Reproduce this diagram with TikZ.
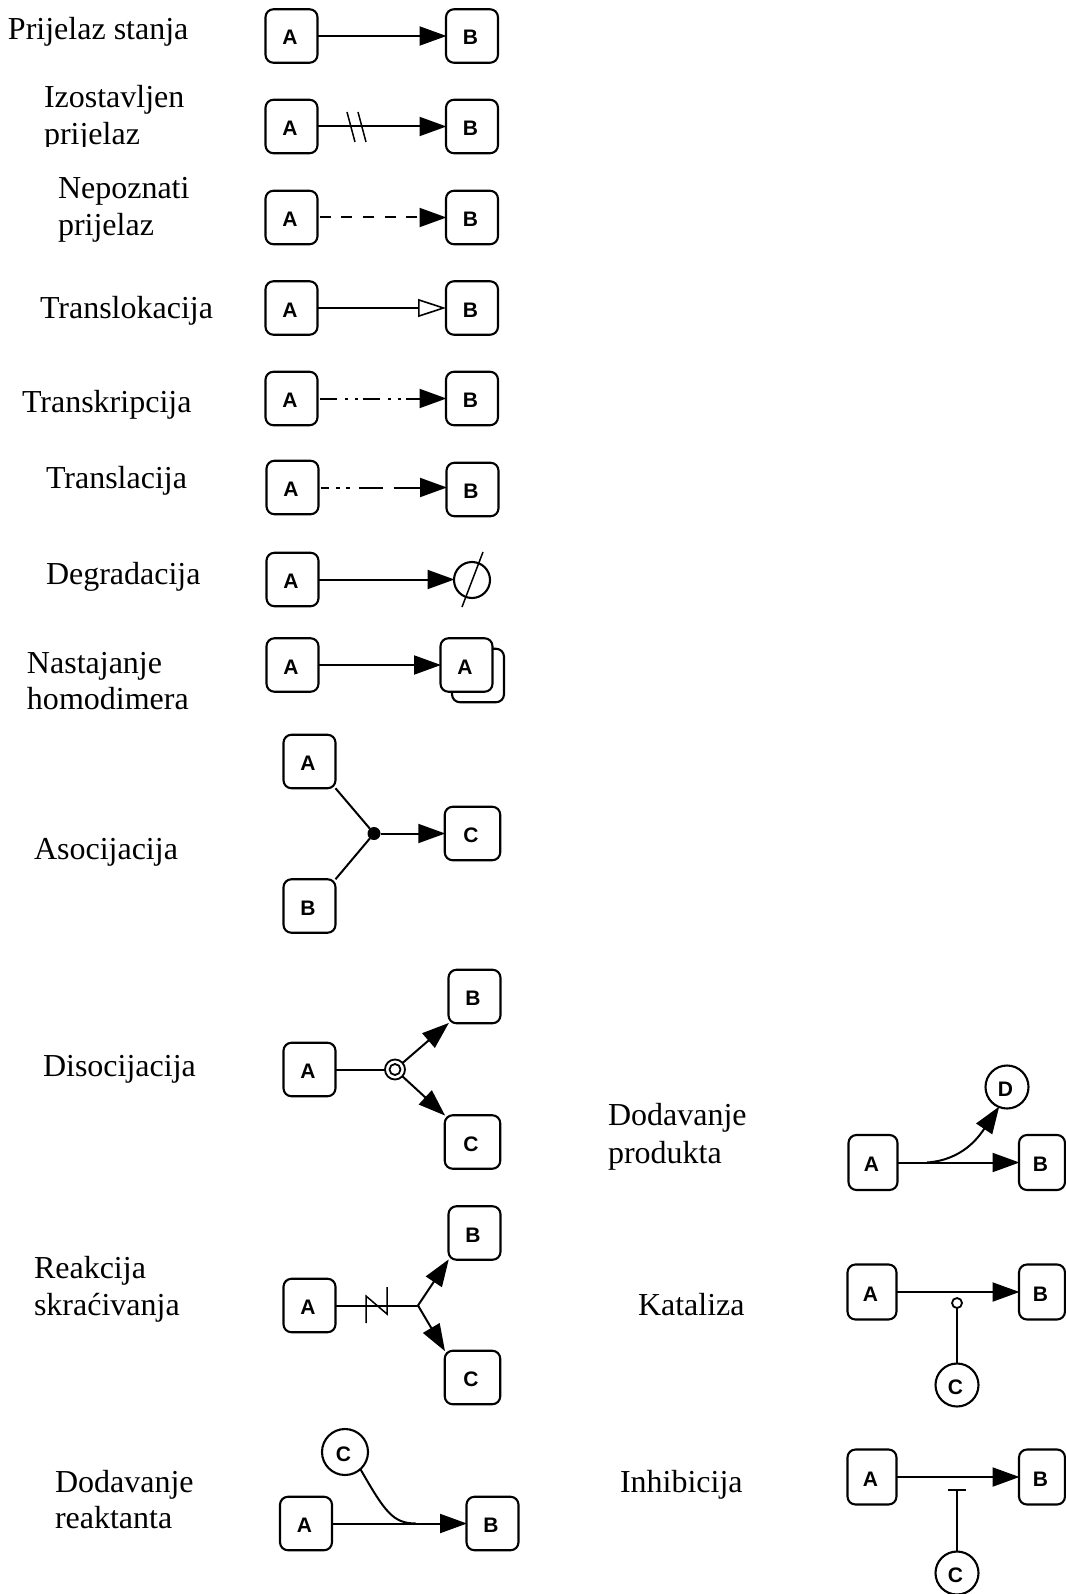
\documentclass[tikz,border=0pt]{standalone}
\usepackage{fontspec}
\setmainfont{Liberation Serif}
\newfontfamily\boxfont{Liberation Sans}
\usetikzlibrary{arrows.meta}
\tikzset{
  x=1pt,y=-1pt,
  conn/.style={line width=2pt,draw=black},
  reac/.style={conn,-{Triangle[length=27pt,width=19pt,fill=black]},shorten >=-0.5pt},
  opentip/.style={conn,-{Triangle[length=28pt,width=18pt,fill=white,line width=1.6pt]}},
  thin tick/.style={line width=1.5pt,draw=black},
  letter/.style={font=\boxfont\bfseries\fontsize{21}{21}\selectfont,text height=18pt,text depth=0pt,execute at end node=\hspace{3pt}},
  ent/.style={draw=black,line width=2.1pt,rounded corners=8pt,fill=white,minimum width=52pt,minimum height=53.5pt,inner sep=0pt,outer sep=0pt,letter},
  wide/.style={ent,minimum width=55.5pt},
  cut/.style={ent,minimum width=46pt},
  rnd/.style={draw=black,line width=2.1pt,circle,fill=white,inner sep=0pt,outer sep=0pt,minimum size=43pt,letter},
  lab/.style={anchor=base west,inner sep=0pt,outer sep=0pt,font=\fontsize{32}{34}\selectfont},
}
\begin{document}
\begin{tikzpicture}
\useasboundingbox (0,0) rectangle (1065,1594);
% labels
\node[lab] (l1) at (8,40) {Prijelaz stanja};
\node[lab] (l2a) at (44,108) {Izostavljen};
\node[lab] (l2b) at (44,145) {prijelaz};
\fill[white] (40,147.5) rectangle (150,158);
\node[lab] (l3a) at (58,199) {Nepoznati};
\node[lab] (l3b) at (58,236) {prijelaz};
\node[lab] (l4) at (40,319) {Translokacija};
\node[lab] (l5) at (22,412) {Transkripcija};
\node[lab] (l6) at (46,488) {Translacija};
\node[lab] (l7) at (46,584) {Degradacija};
\node[lab] (l8a) at (27,673) {Nastajanje};
\node[lab] (l8b) at (27,709) {homodimera};
\node[lab] (l9) at (34,859) {Asocijacija};
\node[lab] (l10) at (43,1076) {Disocijacija};
\node[lab] (l11a) at (34,1278) {Reakcija};
\node[lab] (l11b) at (34,1315) {skraćivanja};
\node[lab] (l12a) at (55,1492) {Dodavanje};
\node[lab] (l12b) at (55,1528) {reaktanta};
\node[lab] (l13a) at (608,1125) {Dodavanje};
\node[lab] (l13b) at (608,1163) {produkta};
\node[lab] (l14) at (638,1315) {Kataliza};
\node[lab] (l15) at (620,1492) {Inhibicija};
% row 1
\node[ent] (a1) at (291.5,36) {A};
\node[ent] (b1) at (472,36) {B};
\draw[reac] (a1.east) -- (a1.east -| b1.west);
% row 2
\node[ent] (a2) at (291.5,126.5) {A};
\node[ent] (b2) at (472,126.5) {B};
\draw[reac] (a2.east) -- (a2.east -| b2.west);
\draw[thin tick] (347,112) -- (355,142);
\draw[thin tick] (358,112) -- (366,142);
% row 3
\node[ent] (a3) at (291.5,217.5) {A};
\node[ent] (b3) at (472,217.5) {B};
\draw[reac,dash pattern=on 11pt off 10.7pt] ([xshift=2pt]a3.east) -- (a3.east -| b3.west);
% row 4
\node[ent] (a4) at (291.5,308) {A};
\node[ent] (b4) at (472,308) {B};
\draw[opentip] (a4.east) -- (a4.east -| b4.west);
% row 5
\node[ent] (a5) at (291.5,398.5) {A};
\node[ent] (b5) at (472,398.5) {B};
\draw[reac,dash pattern=on 17pt off 8pt on 3pt off 7pt on 3pt off 5pt] ([xshift=2pt]a5.east) -- (a5.east -| b5.west);
% row 6
\node[ent] (a6) at (292.5,487.5) {A};
\node[ent] (b6) at (472.5,489.5) {B};
\draw[reac,dash pattern=on 8pt off 7pt on 4pt off 6pt on 4pt off 9pt on 24pt off 11pt on 30pt off 4pt] ([xshift=2pt]a6.east) -- (a6.east -| b6.west);
% row 7
\node[ent] (a7) at (292.5,579.5) {A};
\node[draw=black,line width=2.1pt,circle,minimum size=36pt,inner sep=0pt,outer sep=0pt] (d7) at (472,580) {};
\draw[reac] (a7.east) -- (a7.east -| d7.west);
\draw[thin tick] (483,552) -- (462,607);
% row 8
\node[ent] (a8) at (292.5,665) {A};
\node[ent] (s8) at (478,675.5) {};
\node[ent] (f8) at (466.5,665) {A};
\draw[reac] (a8.east) -- (a8.east -| f8.west);
% association
\node[ent] (a9) at (309.5,761.5) {A};
\node[ent] (b9) at (309.5,906) {B};
\node[wide] (c9) at (472.5,833.5) {C};
\node[circle,fill=black,inner sep=0pt,minimum size=13pt,outer sep=0pt] (j9) at (374,833.5) {};
\draw[conn] (a9.south east) -- (j9);
\draw[conn] (b9.north east) -- (j9);
\draw[reac] (j9) -- (c9);
% dissociation
\node[ent] (a10) at (309.5,1069.5) {A};
\node[ent] (b10) at (474.5,996.5) {B};
\node[wide] (c10) at (472.5,1142) {C};
\node[circle,draw=black,line width=1.8pt,fill=white,minimum size=20pt,inner sep=0pt,outer sep=0pt] (j10) at (395,1069.5) {};
\node[circle,draw=black,line width=1.8pt,fill=white,minimum size=11pt,inner sep=0pt,outer sep=0pt] (k10) at (395,1069.5) {};
\draw[conn] (a10.east) -- (j10);
\draw[reac] (j10) -- (b10.south west);
\draw[reac] (j10) -- (c10.north west);
% truncation
\node[ent] (a11) at (309.5,1305.5) {A};
\node[ent] (b11) at (474.5,1233) {B};
\node[wide] (c11) at (472.5,1377.5) {C};
\coordinate (j11) at (418,1305.5);
\draw[conn] (a11.east) -- (j11);
\draw[reac] (j11) -- (b11.south west);
\draw[reac] (j11) -- (c11.north west);
\draw[thin tick] (366,1323) -- (366,1296) -- (387,1314) -- (387,1287);
% add reactant
\node[rnd,minimum size=46pt] (c12) at (345,1452) {C};
\node[ent] (a12) at (306,1523.5) {A};
\node[ent] (b12) at (492.5,1523.5) {B};
\coordinate (m12) at (416,1523.5);
\draw[reac] (a12.east) -- (b12.west);
\draw[conn] (c12.-48) .. controls (385,1512) and (393,1523.5) .. (m12);
% add product
\node[ent,minimum width=49pt,minimum height=55pt] (a13) at (873,1162.5) {A};
\node[cut,minimum height=55pt] (b13) at (1042,1162.5) {B};
\node[rnd] (d13) at (1007,1087) {D};
\coordinate (m13) at (927,1162.5);
\draw[reac] (a13.east) -- (b13.west);
\draw[reac] (m13) .. controls (962,1160) and (978,1138) .. (d13.-112);
% catalysis
\node[ent,minimum width=49pt,minimum height=55pt] (a14) at (872,1292) {A};
\node[cut,minimum height=55pt] (b14) at (1042,1292) {B};
\node[rnd] (c14) at (957,1385) {C};
\node[circle,draw=black,line width=1.8pt,minimum size=10pt,inner sep=0pt,outer sep=0pt] (o14) at (957,1303) {};
\draw[reac] (a14.east) -- (b14.west);
\draw[conn] (c14) -- (o14);
% inhibition
\node[ent,minimum width=49pt,minimum height=55pt] (a15) at (872,1477) {A};
\node[cut,minimum height=55pt] (b15) at (1042,1477) {B};
\node[rnd] (c15) at (957,1573) {C};
\coordinate (t15) at (957,1490);
\draw[reac] (a15.east) -- (b15.west);
\draw[conn] (c15) -- (t15);
\draw[conn] (948,1490) -- (966,1490);
\end{tikzpicture}
\end{document}
